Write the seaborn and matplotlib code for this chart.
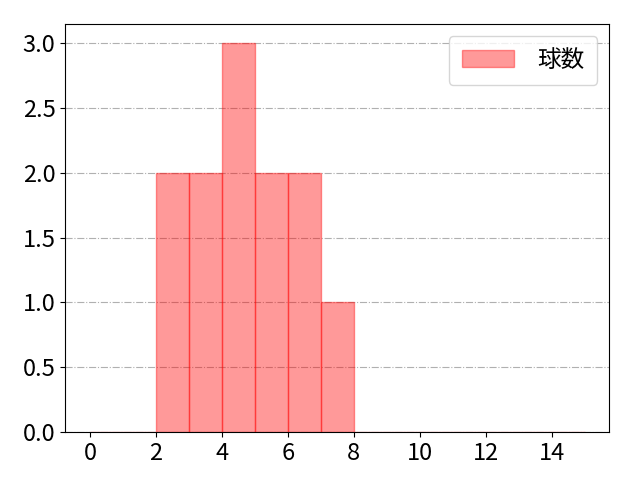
import matplotlib
matplotlib.use("Agg")
import matplotlib.pyplot as plt
import seaborn as sns
import numpy as np

# pitch counts per appearance
pitches = [2, 2, 3, 3, 4, 4, 4, 5, 5, 6, 6, 7]
bin_edges = list(range(0, 16))
x_ticks = [0, 2, 4, 6, 8, 10, 12, 14]
y_ticks = [0.0, 0.5, 1.0, 1.5, 2.0, 2.5, 3.0]

plt.rcParams['font.family'] = ['Noto Sans CJK JP', 'DejaVu Sans']
plt.rcParams['font.size'] = 17

fig, ax = plt.subplots(figsize=(6.4, 4.8), dpi=100)
fig.subplots_adjust(left=0.102, right=0.952, top=0.95, bottom=0.1)
ax.grid(axis='y', linestyle='-.', color='#b0b0b0', linewidth=0.8)
ax.set_axisbelow(True)
sns.histplot(x=pitches, bins=bin_edges, ax=ax, color='red', alpha=0.4,
             edgecolor=(1, 0, 0, 0.4), linewidth=1.0, label='球数', stat='count')
ax.set_xticks(x_ticks)
ax.set_yticks(y_ticks)
ax.set_xlim(-0.75, 15.75)
ax.set_ylim(0, 3.15)
ax.set_xlabel('')
ax.set_ylabel('')
ax.legend(loc='upper right', handlelength=2.2, handletextpad=1.0, borderpad=0.55)
plt.savefig('out.png')
